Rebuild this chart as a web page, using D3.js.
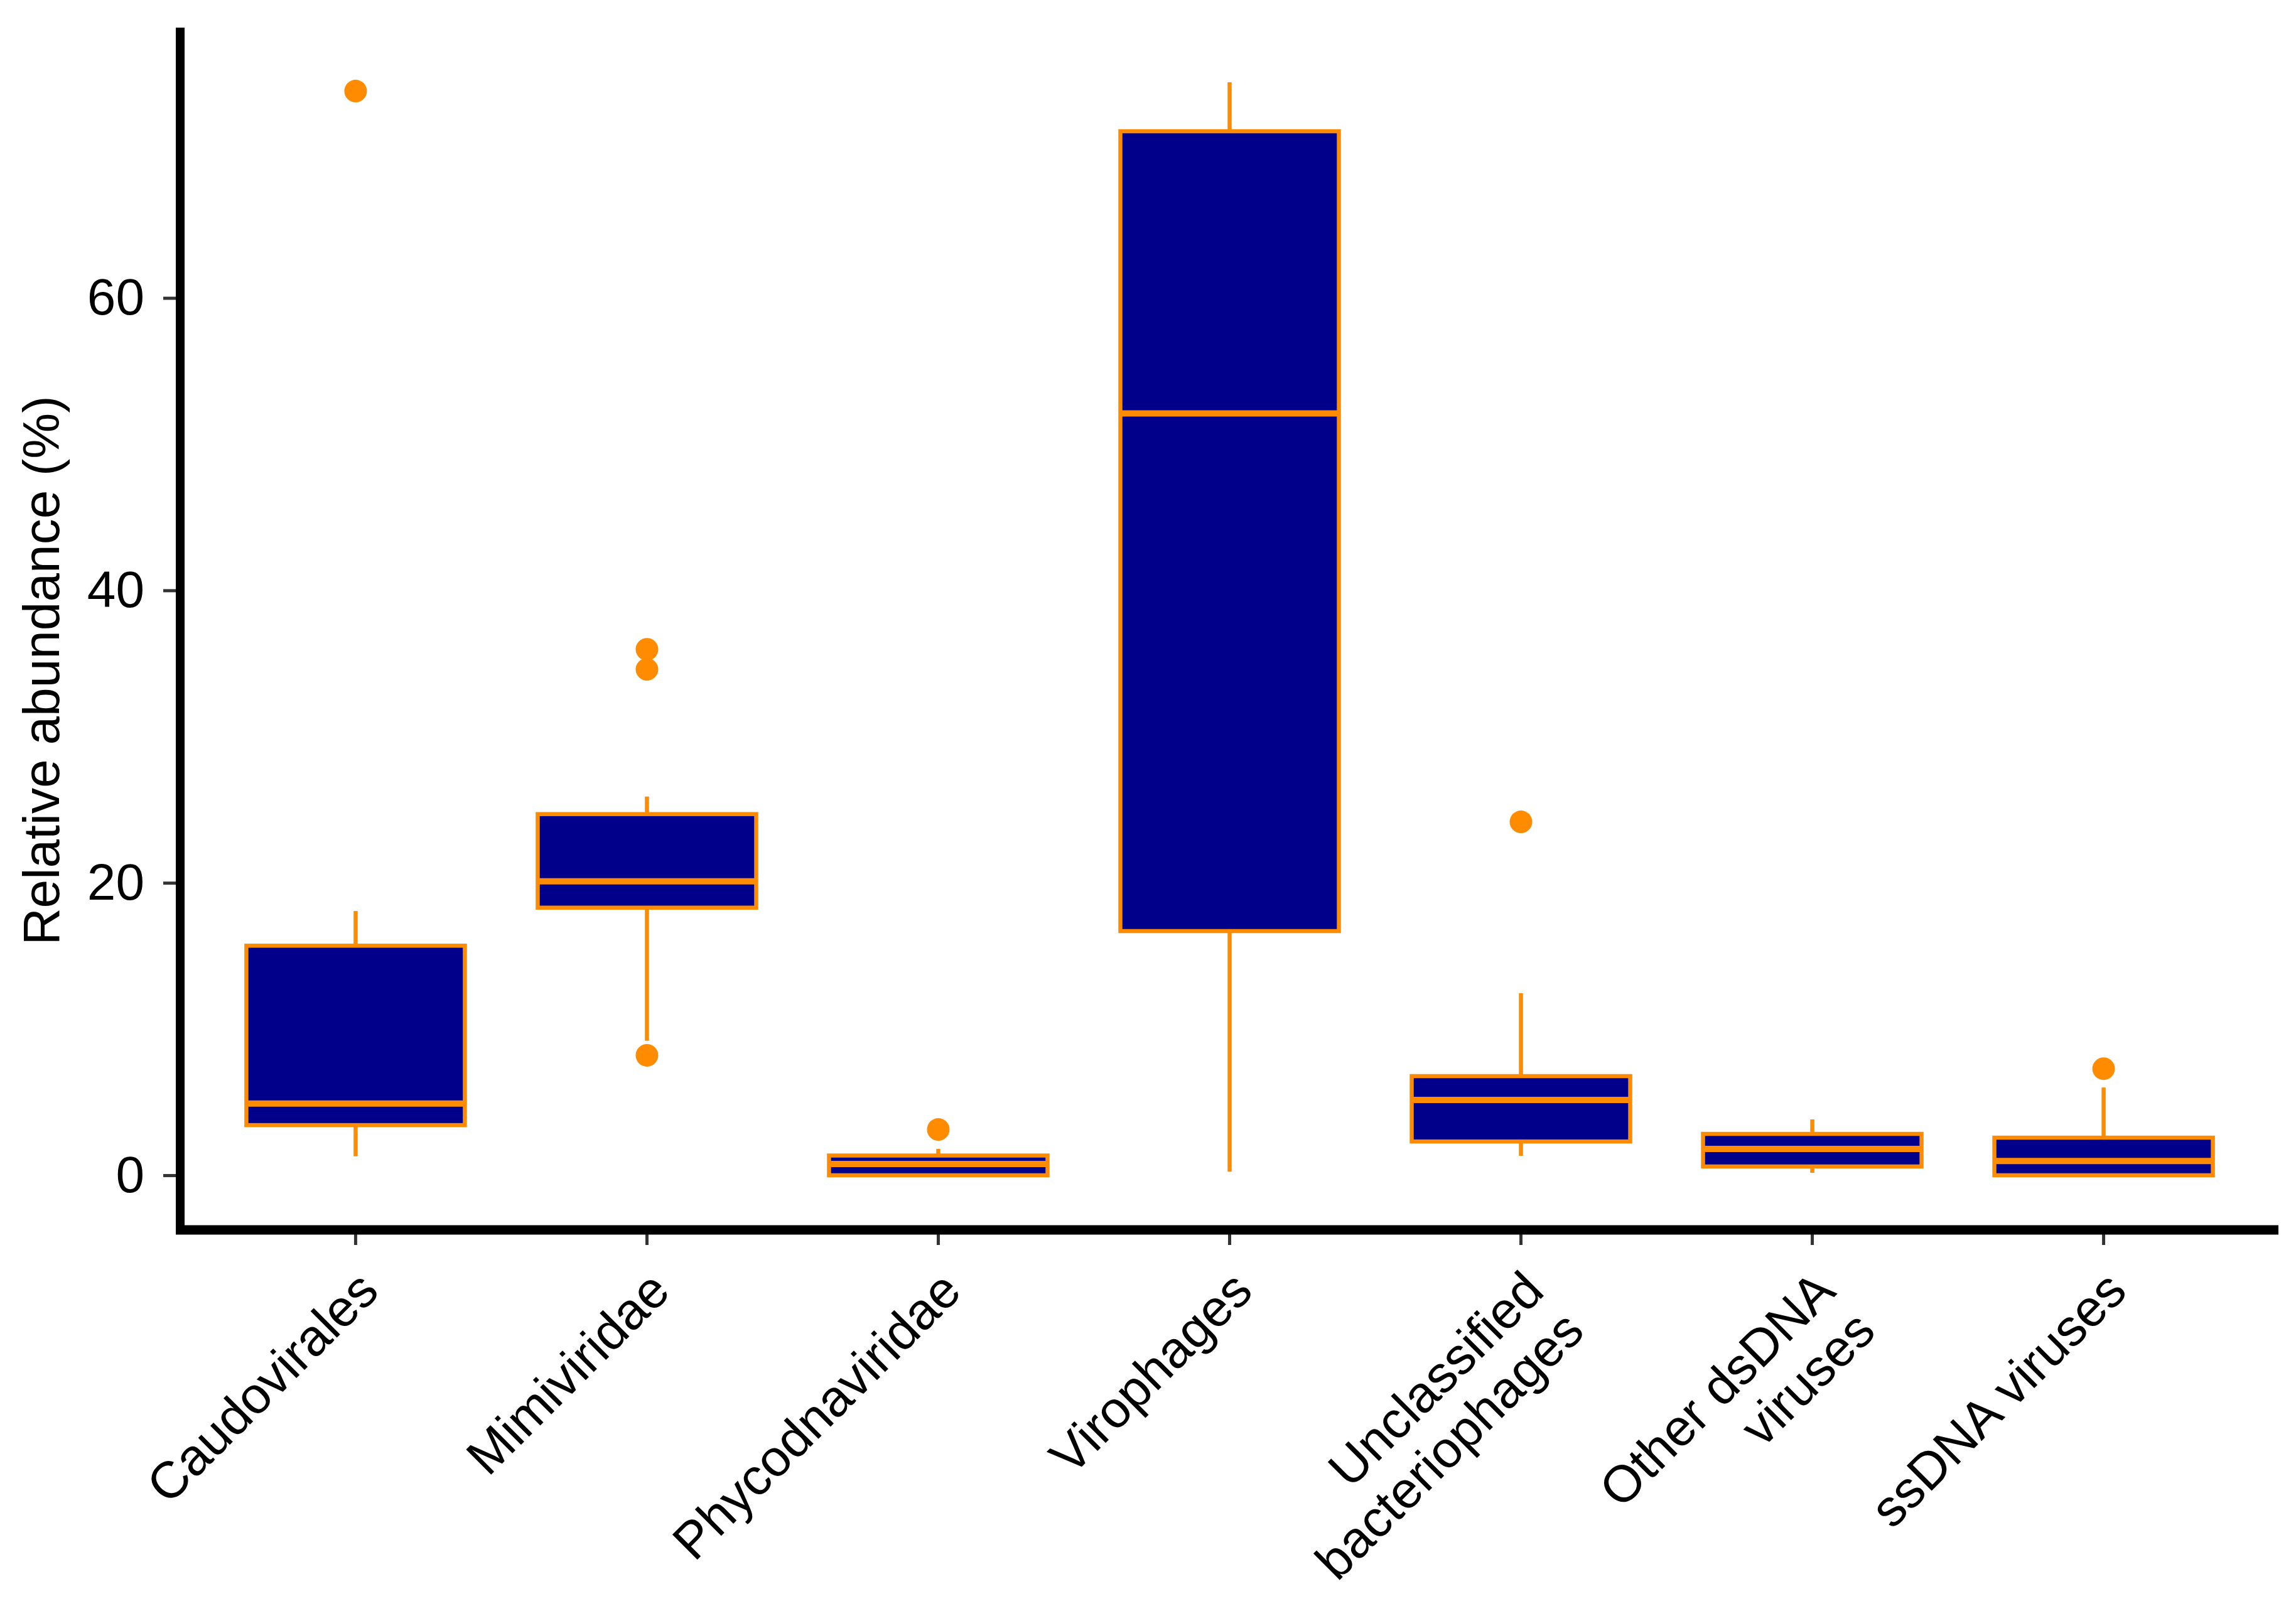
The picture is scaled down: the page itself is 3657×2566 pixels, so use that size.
<!DOCTYPE html>
<html>
<head>
<meta charset="utf-8">
<script src="https://cdn.jsdelivr.net/npm/d3@7"></script>
<style>
  body { margin: 0; background: #fff; }
  svg { display: block; }
  text { font-family: "Liberation Sans", Arial, sans-serif; }
</style>
</head>
<body>
<div id="chart"></div>
<script>
// categories and box statistics
const categories = ["Caudovirales", "Mimiviridae", "Phycodnaviridae", "Virophages",
    "Unclassified\nbacteriophages", "Other dsDNA\nviruses", "ssDNA viruses"];
const whiskerLow  = [1.3, 9.2, 0.0, 0.25, 1.33, 0.17, 0.0];
const q1          = [3.43, 18.3, 0.0, 16.7, 2.31, 0.6, 0.0];
const median      = [4.9, 20.1, 0.77, 52.1, 5.15, 1.8, 0.98];
const q3          = [15.7, 24.7, 1.35, 71.4, 6.78, 2.83, 2.57];
const whiskerHigh = [18.07, 25.9, 1.8, 74.75, 12.45, 3.82, 6.0];
const outliers    = [[74.15], [35.97, 34.6, 8.2], [3.13], [], [24.17], [], [7.29]];
const yTicks = [0, 20, 40, 60];

const width = 3657, height = 2566;
const fillColor = "#00008B";
const lineColor = "#FF8C00";

const svg = d3.select("#chart")
    .append("svg")
    .attr("width", width)
    .attr("height", height);

const boxes = categories.map((c, i) => ({
    name: c,
    lo: whiskerLow[i],
    q1: q1[i],
    med: median[i],
    q3: q3[i],
    hi: whiskerHigh[i],
    out: outliers[i]
}));

// y domain = data range plus 5% each side (ggplot style)
const allVals = [].concat(whiskerLow, whiskerHigh, ...outliers);
const yMin = d3.min(allVals), yMax = d3.max(allVals);
const pad = (yMax - yMin) * 0.05;

const y = d3.scaleLinear()
    .domain([yMin - pad, yMax + pad])
    .range([1959, 44]);

const x = d3.scaleBand()
    .domain(categories)
    .range([288, 3629])
    .paddingInner(0.25)
    .paddingOuter(0.225);

const cx = d => x(d.name) + x.bandwidth() / 2;

// y axis ticks + labels
const yAxis = svg.append("g")
    .attr("transform", "translate(287,0)")
    .call(d3.axisLeft(y).tickValues(yTicks).tickSize(27).tickPadding(30));
yAxis.select(".domain").remove();
yAxis.selectAll(".tick line").attr("stroke", "#333").attr("stroke-width", 5);
yAxis.selectAll(".tick text")
    .attr("fill", "#000")
    .style("font-size", "82px")
    .style("font-family", "'Liberation Sans', Arial, sans-serif");

// x axis ticks
const xAxis = svg.append("g")
    .attr("transform", "translate(0,1959)")
    .call(d3.axisBottom(x).tickSize(24).tickFormat(""));
xAxis.select(".domain").remove();
xAxis.selectAll(".tick line").attr("stroke", "#333").attr("stroke-width", 5);

// x labels, rotated 45 degrees, right aligned to the tick
const xLabels = svg.append("g")
    .selectAll("text")
    .data(categories)
    .enter()
    .append("text")
    .attr("transform", d => "translate(" + (x(d) + x.bandwidth() / 2 - 2) + ",2018) rotate(-45)")
    .attr("text-anchor", "end")
    .style("font-size", "82px")
    .attr("fill", "#000");

xLabels.each(function(d) {
    const lines = d.split("\n");
    const t = d3.select(this);
    lines.forEach((ln, j) => {
        t.append("tspan")
            .attr("x", 0)
            .attr("dy", j == 0 ? "0.73em" : "1.1em")
            .text(ln);
    });
});

// axis lines
svg.append("line")
    .attr("x1", 287).attr("x2", 287)
    .attr("y1", y.range()[1]).attr("y2", 1966)
    .attr("stroke", "#000").attr("stroke-width", 14);
svg.append("line")
    .attr("x1", 280).attr("x2", x.range()[1])
    .attr("y1", 1959).attr("y2", 1959)
    .attr("stroke", "#000").attr("stroke-width", 15);

// y axis title
svg.append("text")
    .attr("transform", "translate(94,1068) rotate(-90)")
    .attr("text-anchor", "middle")
    .style("font-size", "82px")
    .attr("fill", "#000")
    .text("Relative abundance (%)");

// boxplots
const g = svg.append("g")
    .selectAll("g")
    .data(boxes)
    .enter()
    .append("g");

// whiskers
g.append("line")
    .attr("x1", cx).attr("x2", cx)
    .attr("y1", d => y(d.q3)).attr("y2", d => y(d.hi))
    .attr("stroke", lineColor).attr("stroke-width", 6.5);
g.append("line")
    .attr("x1", cx).attr("x2", cx)
    .attr("y1", d => y(d.q1)).attr("y2", d => y(d.lo))
    .attr("stroke", lineColor).attr("stroke-width", 6.5);

// box
g.append("rect")
    .attr("x", d => x(d.name))
    .attr("width", x.bandwidth())
    .attr("y", d => y(d.q3))
    .attr("height", d => y(d.q1) - y(d.q3))
    .attr("fill", fillColor)
    .attr("stroke", lineColor)
    .attr("stroke-width", 6.5);

// median
g.append("line")
    .attr("x1", d => x(d.name)).attr("x2", d => x(d.name) + x.bandwidth())
    .attr("y1", d => y(d.med)).attr("y2", d => y(d.med))
    .attr("stroke", lineColor).attr("stroke-width", 10);

// outliers
g.selectAll("circle")
    .data(d => d.out.map(v => ({ name: d.name, v: v })))
    .enter()
    .append("circle")
    .attr("cx", cx)
    .attr("cy", d => y(d.v))
    .attr("r", 18)
    .attr("fill", lineColor);
</script>
</body>
</html>
